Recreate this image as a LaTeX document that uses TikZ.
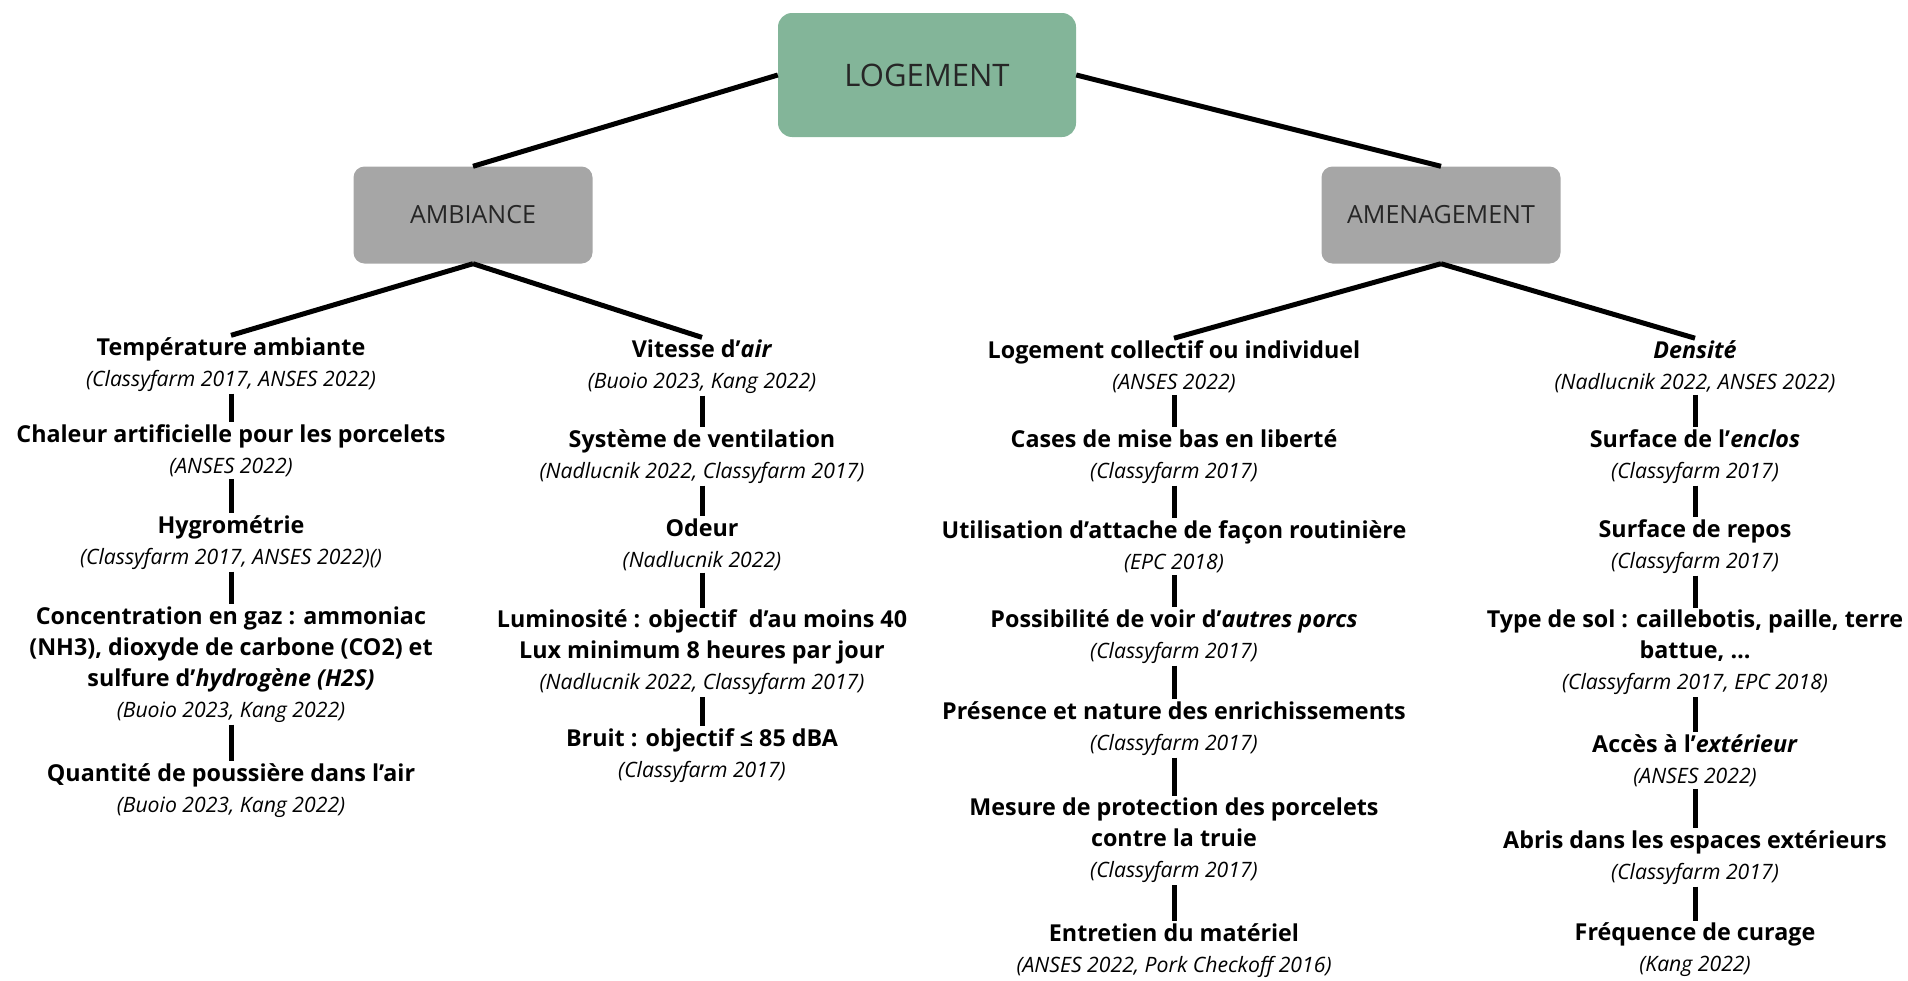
\documentclass[tikz,border=0pt]{standalone}
\usepackage{fontspec}
\setmainfont{Open Sans}
\usetikzlibrary{positioning}
\definecolor{vertlog}{RGB}{131,181,153}
\definecolor{grisbox}{RGB}{166,166,166}
\newcommand{\src}[1]{{\fontsize{21.2}{31}\selectfont\mdseries\itshape #1}}

\begin{document}
\begin{tikzpicture}[x=1pt,y=-1pt,
	box/.style={rounded corners=11pt, fill=grisbox, minimum width=239pt, minimum height=97pt, text=black!85, font=\fontsize{25}{30}\selectfont},
	root/.style={box, fill=vertlog, minimum width=298pt, minimum height=124pt, rounded corners=14pt, font=\fontsize{31}{36}\selectfont},
	item/.style={align=center, inner sep=2pt, font=\fontsize{23.3}{31}\selectfont\bfseries},
	link/.style={line width=5pt}]
	\useasboundingbox (0,0) rectangle (1908,980);
	\node[root] (loge) at (927,75) {LOGEMENT};
	\node[box] (amb) at (473,215) {AMBIANCE};
	\node[box] (amen) at (1441,215) {AMENAGEMENT};
	% ambiance
	\node[item] (temp) at (231,364.5) {Température ambiante\\\src{(Classyfarm 2017, ANSES 2022)}};
	\node[item] (chal) at (231,450.5) {Chaleur artificielle pour les porcelets\\\src{(ANSES 2022)}};
	\node[item] (hygro) at (231,542.5) {Hygrométrie\\\src{(Classyfarm 2017, ANSES 2022)()}};
	\node[item] (gaz) at (231,664.5) {Concentration en gaz : ammoniac\\(NH3), dioxyde de carbone (CO2) et\\sulfure d’\textit{hydrogène (H2S)}\\\src{(Buoio 2023, Kang 2022)}};
	\node[item] (pous) at (231,790.5) {Quantité de poussière dans l’air\\\src{(Buoio 2023, Kang 2022)}};
	\node[item] (vit) at (702,366.5) {Vitesse d’\textit{air}\\\src{(Buoio 2023, Kang 2022)}};
	\node[item] (venti) at (702,456.5) {Système de ventilation\\\src{(Nadlucnik 2022, Classyfarm 2017)}};
	\node[item] (odeur) at (702,544.5) {Odeur\\\src{(Nadlucnik 2022)}};
	\node[item] (lumi) at (702,652.5) {Luminosité : objectif~ d’au moins 40\\Lux minimum 8 heures par jour\\\src{(Nadlucnik 2022, Classyfarm 2017)}};
	\node[item] (bruit) at (702,755.5) {Bruit : objectif ≤ 85 dBA\\\src{(Classyfarm 2017)}};
	% amenagement
	\node[item] (coll) at (1174,366.5) {Logement collectif ou individuel\\\src{(ANSES 2022)}};
	\node[item] (cases) at (1174,456.5) {Cases de mise bas en liberté\\\src{(Classyfarm 2017)}};
	\node[item] (attache) at (1174,546.5) {Utilisation d’attache de façon routinière\\\src{(EPC 2018)}};
	\node[item] (voir) at (1174,636.5) {Possibilité de voir d’\textit{autres porcs}\\\src{(Classyfarm 2017)}};
	\node[item] (enrich) at (1174,728.5) {Présence et nature des enrichissements\\\src{(Classyfarm 2017)}};
	\node[item] (protec) at (1174,840.5) {Mesure de protection des porcelets\\contre la truie\\\src{(Classyfarm 2017)}};
	\node[item] (entret) at (1174,950.5) {Entretien du matériel\\\src{(ANSES 2022, Pork Checkoff 2016)}};
	\node[item] (dens) at (1695,366.5) {\textit{Densité}\\\src{(Nadlucnik 2022, ANSES 2022)}};
	\node[item] (enclos) at (1695,456.5) {Surface de l’\textit{enclos}\\\src{(Classyfarm 2017)}};
	\node[item] (repos) at (1695,546.5) {Surface de repos\\\src{(Classyfarm 2017)}};
	\node[item] (sol) at (1695,652.5) {Type de sol : caillebotis, paille, terre\\battue, …\\\src{(Classyfarm 2017, EPC 2018)}};
	\node[item] (exter) at (1695,760.5) {Accès à l’\textit{extérieur}\\\src{(ANSES 2022)}};
	\node[item] (abris) at (1695,857.5) {Abris dans les espaces extérieurs\\\src{(Classyfarm 2017)}};
	\node[item] (curage) at (1695,950) {Fréquence de curage\\\src{(Kang 2022)}};
	\path[link]
	(loge.west) edge (amb.north)
	(loge.east) edge (amen.north)
	(amb.south) edge (temp.north)
		edge (vit.north)
	(amen.south) edge (coll.north)
		edge (dens.north);
	\path[link]
	(temp) edge (chal) (chal) edge (hygro) (hygro) edge (gaz) (gaz) edge (pous)
	(vit) edge (venti) (venti) edge (odeur) (odeur) edge (lumi) (lumi) edge (bruit)
	(coll) edge (cases) (cases) edge (attache) (attache) edge (voir) (voir) edge (enrich)
	(enrich) edge (protec) (protec) edge (entret)
	(dens) edge (enclos) (enclos) edge (repos) (repos) edge (sol) (sol) edge (exter)
	(exter) edge (abris) (abris) edge (curage);
\end{tikzpicture}
\end{document}
